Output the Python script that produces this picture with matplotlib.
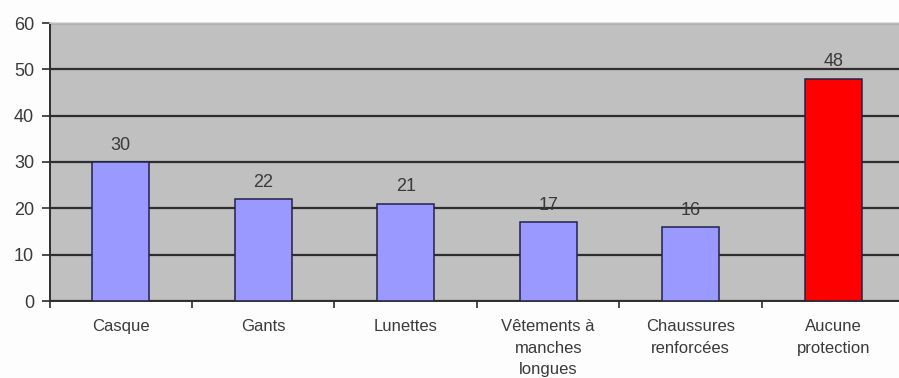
import matplotlib
matplotlib.use("Agg")
import matplotlib.pyplot as plt
import numpy as np

categories = ["Casque", "Gants", "Lunettes", "Vêtements à\nmanches\nlongues",
              "Chaussures\nrenforcées", "Aucune\nprotection"]
values = [30, 22, 21, 17, 16, 48]
bar_colors = ["#9999FF", "#9999FF", "#9999FF", "#9999FF", "#9999FF", "#FF0000"]
y_ticks = [0, 10, 20, 30, 40, 50, 60]

plt.rcParams["font.family"] = ["Liberation Sans", "DejaVu Sans"]
text_color = "#3a3a3a"

fig = plt.figure(figsize=(8.99, 3.78), dpi=100, facecolor="#fdfdfd")
ax = fig.add_axes([49.5 / 899, 77 / 378, 855 / 899, 278 / 378])
ax.set_facecolor("#c0c0c0")

x = np.arange(len(categories))
bars = ax.bar(x, values, width=0.4, color=bar_colors, edgecolor="#22224a",
              linewidth=1.1, zorder=3)

for xi, v in zip(x, values):
    ax.annotate(str(v), (xi, v), xytext=(0, 6), textcoords="offset points",
                ha="center", va="bottom", fontsize=13, color=text_color)

ax.set_xlim(-0.5, len(categories) - 0.5)
ax.set_ylim(0, 60)
ax.set_yticks(y_ticks)
ax.set_yticklabels([str(t) for t in y_ticks], fontsize=13, color=text_color)
ax.yaxis.grid(True, color="#2e2e2e", linewidth=1.6, zorder=1)
ax.set_axisbelow(True)

# category labels sit between boundary ticks
ax.set_xticks(x)
ax.set_xticklabels(categories, fontsize=12, color=text_color, linespacing=1.55)
ax.tick_params(axis="x", length=0, pad=13)
ax.set_xticks(np.arange(len(categories) + 1) - 0.5, minor=True)
ax.tick_params(axis="x", which="minor", length=5, width=1.2, color="#2e2e2e")
ax.tick_params(axis="y", length=6, width=1.2, color="#2e2e2e", pad=5)

for side in ["left", "bottom"]:
    ax.spines[side].set_color("#2e2e2e")
    ax.spines[side].set_linewidth(1.4)
ax.spines["top"].set_color("#d8d8d8")
ax.spines["top"].set_linewidth(1.2)
ax.spines["right"].set_visible(False)

fig.savefig("out.png", dpi=100, facecolor=fig.get_facecolor())
